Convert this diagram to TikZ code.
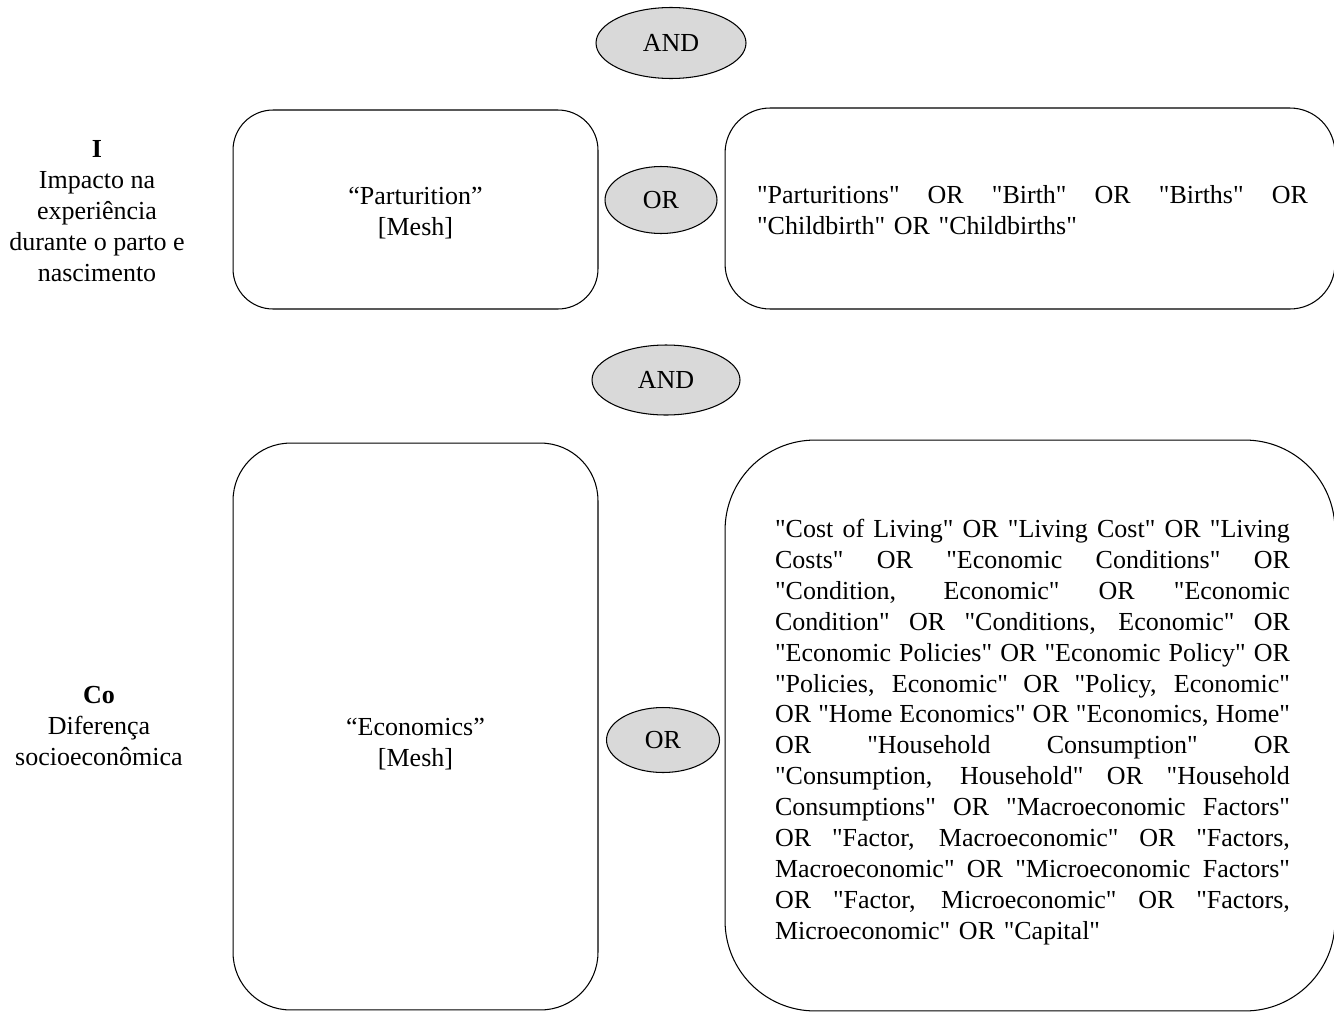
\documentclass[tikz,border=0pt]{standalone}
\usepackage{fontspec}
\setmainfont{Liberation Serif}[Ligatures=TeXOff]
\usetikzlibrary{shapes}
\definecolor{opgray}{HTML}{D9D9D9}
\tikzstyle{term} = [draw,line width=0.6pt,inner sep=0pt]
\tikzstyle{oper} = [ellipse,draw,line width=0.6pt,fill=opgray,inner sep=0pt]
\tikzstyle{topic} = [align=center]
\tikzstyle{query} = [align=left,inner sep=0pt]
\newcommand{\fullline}[2][10.3cm]{\leavevmode\hbox to #1{\spaceskip=0pt\xspaceskip=0pt #2}}

\begin{document}
\begin{tikzpicture}[x=0.02cm,y=-0.02cm,font=\fontsize{14.8}{17.6}\selectfont]
    \useasboundingbox (0,0) rectangle (1334,1011);
    \clip (0,0) rectangle (1334,1011);

    % concepts on the left
    \node[topic] (topicI) at (97,211) {\textbf{I}\\Impacto na\\experiência\\durante o parto e\\nascimento};
    \node[topic] (topicCo) at (99,726) {\textbf{Co}\\Diferença\\socioeconômica};

    % Mesh terms
    \node[term,rounded corners=0.8cm,minimum width=7.3cm,minimum height=3.98cm] (parturition) at (415.5,209.5) {};
    \node[topic] (parturitiontext) at (415.5,213) {“Parturition”\\{[Mesh]}};
    \node[term,rounded corners=1.15cm,minimum width=7.3cm,minimum height=11.34cm] (economics) at (415.5,726.5) {};
    \node[topic] (economicstext) at (415.5,744) {“Economics”\\{[Mesh]}};

    % free terms
    \node[term,rounded corners=0.9cm,minimum width=12.2cm,minimum height=4.02cm] (birthterms) at (1030,208.5) {};
    \node[query,text width=11.02cm] (birthtext) at (1032.5,210)
        {\fullline[11.02cm]{"Parturitions" OR "Birth" OR "Births" OR}\\
         "Childbirth" OR "Childbirths"};
    \node[term,rounded corners=1.8cm,minimum width=12.2cm,minimum height=11.42cm] (econterms) at (1030,725.5) {};
    \node[query,text width=10.3cm] (econtext) at (1032.5,732)
        {\fullline{"Cost of Living" OR "Living Cost" OR "Living}\\
         \fullline{Costs" OR "Economic Conditions" OR}\\
         \fullline{"Condition, Economic" OR "Economic}\\
         \fullline{Condition" OR "Conditions, Economic" OR}\\
         \fullline{"Economic Policies" OR "Economic Policy" OR}\\
         \fullline{"Policies, Economic" OR "Policy, Economic"}\\
         \fullline{OR "Home Economics" OR "Economics, Home"}\\
         \fullline{OR "Household Consumption" OR}\\
         \fullline{"Consumption, Household" OR "Household}\\
         \fullline{Consumptions" OR "Macroeconomic Factors"}\\
         \fullline{OR "Factor, Macroeconomic" OR "Factors,}\\
         \fullline{Macroeconomic" OR "Microeconomic Factors"}\\
         \fullline{OR "Factor, Microeconomic" OR "Factors,}\\
         Microeconomic" OR "Capital"};

    % boolean operators
    \foreach \pos/\name/\w/\h/\op in {{(671,43)/andtop/3.0/1.42/AND}, {(666,380)/andmid/2.96/1.4/AND}, {(661,200)/ortop/2.24/1.34/OR}, {(663,740)/orbot/2.26/1.3/OR}}
        \node[oper,minimum width=\w cm,minimum height=\h cm] (\name) at \pos {\op};

\end{tikzpicture}
\end{document}
